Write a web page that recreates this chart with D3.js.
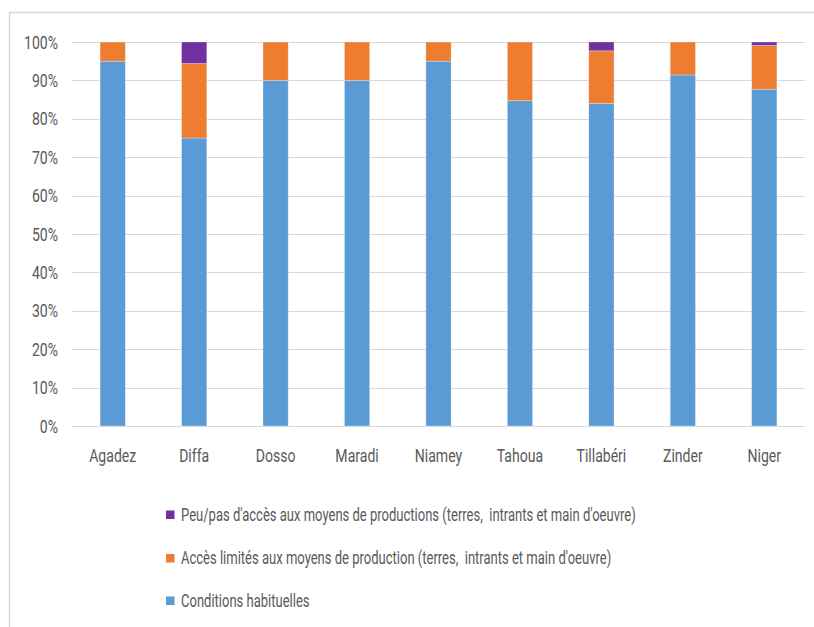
<!DOCTYPE html>
<html>
<head>
<meta charset="utf-8">
<script src="https://cdn.jsdelivr.net/npm/d3@7"></script>
<style>
  html, body { margin: 0; padding: 0; background: #fff; }
  svg text { font-family: Roboto, "Open Sans", sans-serif; fill: #595959; white-space: pre; }
</style>
</head>
<body>
<svg id="chart" width="814" height="627"></svg>
<script>
// Regions and share of households (%) per production-access condition
const regions = ["Agadez", "Diffa", "Dosso", "Maradi", "Niamey", "Tahoua", "Tillabéri", "Zinder", "Niger"];
const habituelles = [95, 75, 90, 90, 95, 84.7, 84.0, 91.4, 87.7];
const limites     = [5, 19.4, 10, 10, 5, 15.3, 13.7, 8.6, 11.4];
const peuPas      = [0, 5.6, 0, 0, 0, 0, 2.3, 0, 0.9];

const seriesNames = [
  "Conditions habituelles",
  "Accès limités aux moyens de production (terres,  intrants et main d'oeuvre)",
  "Peu/pas d'accès aux moyens de productions (terres,  intrants et main d'oeuvre)"
];
const seriesColors = ["#5b9bd5", "#ed7d31", "#7030a0"];
const yTicks = [0, 10, 20, 30, 40, 50, 60, 70, 80, 90, 100];

const svg = d3.select("#chart");
const SX = 0.74; // narrow lettering

// outer frame (top and left edges)
svg.append("path")
  .attr("d", "M9.5,627 V12.5 H814")
  .attr("fill", "none").attr("stroke", "#d9d9d9").attr("stroke-width", 1.5);

const plot = { left: 72, right: 805, top: 42, bottom: 426 };

const x = d3.scaleBand().domain(regions).range([plot.left, plot.right]).paddingInner(0.69).paddingOuter(0.345);
const y = d3.scaleLinear().domain([0, 100]).range([plot.bottom, plot.top]);

// gridlines
svg.append("g").selectAll("line").data(yTicks).join("line")
  .attr("x1", plot.left).attr("x2", plot.right)
  .attr("y1", d => Math.round(y(d)) + 0.5).attr("y2", d => Math.round(y(d)) + 0.5)
  .attr("stroke", "#d9d9d9").attr("stroke-width", 1.2);

// y tick labels
svg.append("g").selectAll("text").data(yTicks).join("text")
  .attr("transform", d => `translate(58,${y(d) + 6.5}) scale(${SX},1)`)
  .attr("text-anchor", "end")
  .attr("font-size", 19)
  .text(d => d + "%");

// stacked bars
const rows = regions.map((r, i) => ({ region: r, s0: habituelles[i], s1: limites[i], s2: peuPas[i] }));
const stack = d3.stack().keys(["s0", "s1", "s2"])(rows);

svg.append("g").selectAll("g").data(stack).join("g")
  .attr("fill", (d, i) => seriesColors[i])
  .selectAll("rect").data(d => d).join("rect")
  .attr("x", d => x(d.data.region))
  .attr("width", x.bandwidth())
  .attr("y", d => y(d[1]))
  .attr("height", d => Math.max(0, y(d[0]) - y(d[1])))
  .attr("stroke", "rgba(255,255,255,0.35)").attr("stroke-width", 0.8);

// x labels
svg.append("g").selectAll("text").data(regions).join("text")
  .attr("transform", d => `translate(${x(d) + x.bandwidth() / 2},462) scale(${SX},1)`)
  .attr("text-anchor", "middle")
  .attr("font-size", 19)
  .text(d => d);

// legend (reverse order: top entry is the top of the stack)
const legendOrder = [2, 1, 0];
const legendY = [520.5, 564, 606.5];
const lg = svg.append("g").selectAll("g").data(legendOrder).join("g");
lg.append("rect")
  .attr("x", 166).attr("y", (d, i) => legendY[i] - 10)
  .attr("width", 8.5).attr("height", 8.5)
  .attr("fill", d => seriesColors[d]);
lg.append("text")
  .attr("transform", (d, i) => `translate(181,${legendY[i]}) scale(${SX},1)`)
  .attr("font-size", 17.6)
  .text(d => seriesNames[d]);
</script>
</body>
</html>
